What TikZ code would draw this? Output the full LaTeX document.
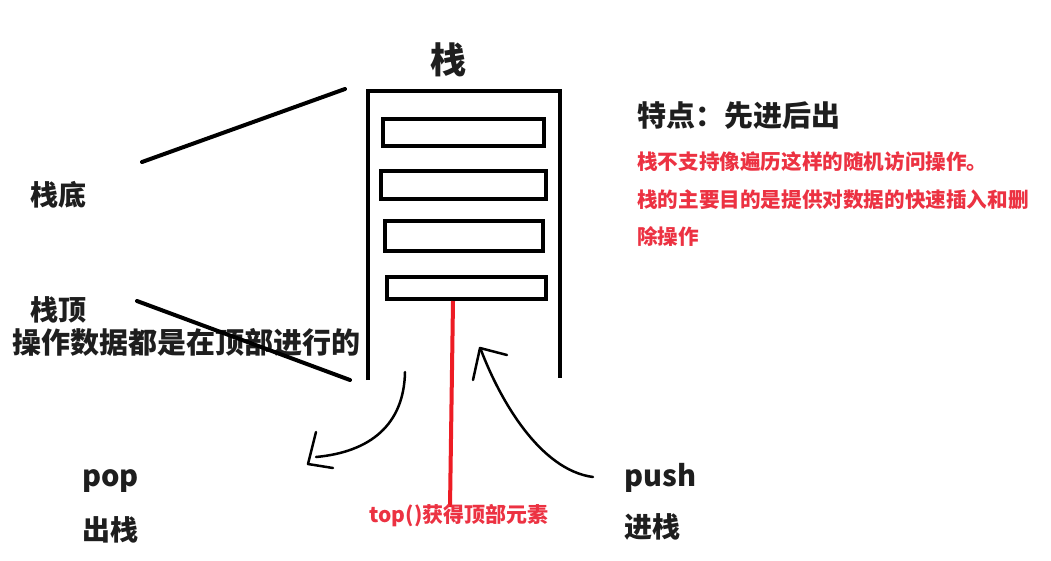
\documentclass[tikz,border=0pt]{standalone}
\usepackage{fontspec}
\setmainfont{Noto Sans CJK SC}
\definecolor{ink}{RGB}{30,30,30}
\definecolor{note}{RGB}{236,50,66}
\definecolor{paint}{RGB}{237,28,36}
\tikzset{
  pen/.style={line width=4pt,black},
  hand/.style={line width=2.5pt,black,line cap=round,line join=round},
  slot/.style={draw,line width=4pt,inner sep=0pt},
  lbl/.style={anchor=west,inner sep=0pt,text=ink,font=\bfseries\fontsize{28}{30}\selectfont},
  memo/.style={anchor=west,inner sep=0pt,text=note,font=\bfseries\fontsize{20.6}{24}\selectfont}
}
\begin{document}
\begin{tikzpicture}[x=1pt,y=-1pt]
\useasboundingbox[fill=white] (0,0) rectangle (1051,560);
% the stack
\node[inner sep=0pt,text=ink,font=\bfseries\fontsize{36}{40}\selectfont] (title) at (448,60) {栈};
\draw[pen] (368,380)--(368,91)--(560,91)--(560,378);
\node[slot,minimum width=161pt,minimum height=27pt] (s1) at (463.5,132.5) {};
\node[slot,minimum width=165pt,minimum height=28pt] (s2) at (463.5,185) {};
\node[slot,minimum width=158pt,minimum height=30pt] (s3) at (464,236) {};
\node[slot,minimum width=159pt,minimum height=22pt] (s4) at (466.5,288) {};
\coordinate (rtop) at (453,301);
\coordinate (rbot) at (450,507);
\draw[line width=4pt,paint] (rtop)--(rbot);
\node[inner sep=0pt,text=note,font=\bfseries\fontsize{21}{24}\selectfont] (topop) at (459,516) {top()获得顶部元素};
% left side
\node[lbl] (bot) at (30,195) {栈底};
\node[lbl] (top) at (30,310) {栈顶};
\node[lbl,font=\bfseries\fontsize{29}{32}\selectfont] (where) at (12,342) {操作数据都是在顶部进行的};
\coordinate (b1) at (142,162);
\coordinate (b2) at (345,89);
\coordinate (t1) at (137,301);
\coordinate (t2) at (350,380);
\draw[pen,line cap=round] (b1)--(b2);
\draw[pen,line cap=round] (t1)--(t2);
% right side
\node[lbl,font=\bfseries\fontsize{29}{32}\selectfont] (rule) at (637,116) {特点：先进后出};
\node[memo] (m1) at (637,162) {栈不支持像遍历这样的随机访问操作。};
\node[memo] (m2) at (637,200) {栈的主要目的是提供对数据的快速插入和删};
\node[memo] (m3) at (637,237) {除操作};
% pop and push
\node[lbl,font=\bfseries\fontsize{29}{32}\selectfont] (pop) at (82,481) {pop};
\node[lbl] (popcn) at (82,530) {出栈};
\node[lbl,font=\bfseries\fontsize{29}{32}\selectfont] (push) at (624,478) {push};
\node[lbl] (pushcn) at (624,527) {进栈};
\coordinate (p0) at (405,372);
\coordinate (p1) at (316,457);
\draw[hand] (p0) .. controls (404,425) and (370,452) .. (p1);
\draw[hand] (316,432)--(308,464)--(333,468);
\coordinate (q0) at (593,477);
\coordinate (q1) at (481,350);
\draw[hand] (q0) .. controls (540,470) and (500,400) .. (q1);
\draw[hand] (473,380)--(480,348)--(507,355);
\end{tikzpicture}
\end{document}
